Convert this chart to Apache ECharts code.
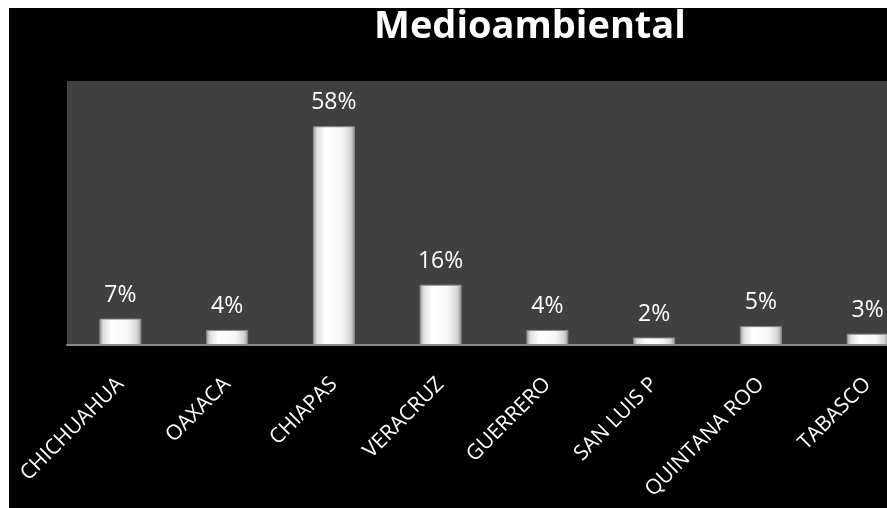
<!DOCTYPE html>
<html>
<head>
<meta charset="utf-8">
<script src="https://cdn.jsdelivr.net/npm/echarts@6/dist/echarts.min.js"></script>
<style>
html,body{margin:0;padding:0;background:#fff;overflow:hidden;width:887px;height:508px;}
#chart{width:921px;height:508px;}
</style>
</head>
<body>
<div id="chart"></div>
<script>
const titleText = 'Medioambiental';
const categories = ['CHICHUAHUA', 'OAXACA', 'CHIAPAS', 'VERACRUZ', 'GUERRERO', 'SAN LUIS P', 'QUINTANA ROO', 'TABASCO'];
const values = [7, 4, 58, 16, 4, 2, 5, 3];

const chart = echarts.init(document.getElementById('chart'));
const barGradient = new echarts.graphic.LinearGradient(0, 0, 1, 0, [
  {offset: 0, color: '#9a9a9a'},
  {offset: 0.1, color: '#e0e0e0'},
  {offset: 0.3, color: '#ffffff'},
  {offset: 0.7, color: '#f6f6f6'},
  {offset: 0.9, color: '#d4d4d4'},
  {offset: 1, color: '#909090'}
]);
chart.setOption({
  backgroundColor: '#ffffff',
  animation: false,
  graphic: [{
    type: 'rect',
    z: -10,
    silent: true,
    shape: {x: 9, y: 8, width: 960, height: 520},
    style: {fill: '#000000'}
  }],
  title: {
    text: titleText,
    left: 525,
    top: 3,
    textAlign: 'center',
    textStyle: {color: '#ffffff', fontFamily: 'Open Sans', fontWeight: 'bold', fontSize: 38}
  },
  grid: {
    left: 67, top: 81, right: 0, bottom: 163,
    show: true, backgroundColor: '#404040', borderWidth: 0
  },
  xAxis: {
    type: 'category',
    data: categories,
    axisLine: {show: true, lineStyle: {color: '#8a8a8a', width: 2}},
    axisTick: {show: false},
    axisLabel: {
      rotate: 45, interval: 0, margin: 36,
      color: '#ffffff', fontFamily: 'Open Sans', fontSize: 21
    }
  },
  yAxis: {
    type: 'value', min: 0, max: 70,
    show: false, splitLine: {show: false}
  },
  series: [{
    type: 'bar',
    data: values,
    barWidth: 42,
    itemStyle: {color: barGradient, borderColor: '#8a8a8a', borderWidth: 1},
    label: {
      show: true, position: 'top', distance: 12,
      formatter: p => p.value + '%',
      color: '#ffffff', fontFamily: 'Open Sans', fontSize: 23
    }
  }]
});
</script>
</body>
</html>
